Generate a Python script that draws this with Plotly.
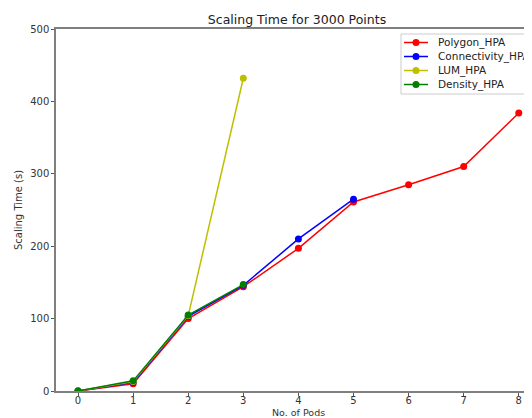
import plotly.graph_objects as go

pods = [0, 1, 2, 3, 4, 5, 6, 7, 8]
polygon_hpa = [0, 10, 100, 144, 197, 261, 285, 310, 384]
connectivity_hpa = [0, 12, 103, 146, 210, 265]
lum_hpa = [0, 13, 104, 432]
density_hpa = [0, 14, 105, 147]
y_ticks = [0, 100, 200, 300, 400, 500]

series = [
    ("Polygon_HPA", polygon_hpa, "#ff0000"),
    ("Connectivity_HPA", connectivity_hpa, "#0000ff"),
    ("LUM_HPA", lum_hpa, "#bfbf00"),
    ("Density_HPA", density_hpa, "#008000"),
]

# page has an 8px body margin; figure is sized to fit the window
W, H = 524, 410
L, R, T, B = 48, 0, 21, 27
PW, PH = W - L - R, H - T - B


def px(page_x):
    return (page_x - 8 - L) / PW


def py(page_y):
    return (H - B - (page_y - 8)) / PH


fig = go.Figure()
for name, vals, color in series:
    fig.add_trace(go.Scatter(
        x=pods[:len(vals)], y=vals, name=name, mode="lines+markers",
        line=dict(color=color, width=1.5),
        marker=dict(color=color, size=7),
        showlegend=False,
    ))

font = "DejaVu Sans"
shapes = []
annotations = []
# legend box
shapes.append(dict(type="rect", xref="paper", yref="paper",
                   x0=px(401), x1=px(545), y0=py(94), y1=py(34),
                   line=dict(color="#cccccc", width=1),
                   fillcolor="rgba(255,255,255,0.85)", layer="above"))
entry_y = [42.5, 56.5, 70.5, 84.5]
for (name, vals, color), ey in zip(series, entry_y):
    shapes.append(dict(type="line", xref="paper", yref="paper",
                       x0=px(404), x1=px(428), y0=py(ey), y1=py(ey),
                       line=dict(color=color, width=1.5), layer="above"))
    shapes.append(dict(type="circle", xref="paper", yref="paper",
                       xsizemode="pixel", ysizemode="pixel",
                       xanchor=px(416), yanchor=py(ey),
                       x0=-3.5, x1=3.5, y0=-3.5, y1=3.5,
                       line=dict(color=color, width=0), fillcolor=color,
                       layer="above"))
    annotations.append(dict(text=name, xref="paper", yref="paper",
                            x=px(436), y=py(ey), xanchor="left", yanchor="middle",
                            showarrow=False,
                            font=dict(family=font, size=10.5, color="#222222")))

# axis titles
annotations.append(dict(text="No. of Pods", xref="paper", yref="paper",
                        x=px(298), y=py(412.5), xanchor="center", yanchor="middle",
                        showarrow=False, font=dict(family=font, size=9.5, color="#333333")))
annotations.append(dict(text="Scaling Time (s)", xref="paper", yref="paper",
                        x=px(18), y=py(210), xanchor="center", yanchor="middle",
                        textangle=-90, showarrow=False,
                        font=dict(family=font, size=10, color="#333333")))

fig.update_layout(
    width=W, height=H,
    margin=dict(l=L, r=R, t=T, b=B),
    paper_bgcolor="white", plot_bgcolor="white",
    font=dict(family=font, size=10, color="#333333"),
    title=dict(text="Scaling Time for 3000 Points", x=px(297), xanchor="center",
               xref="paper", y=1 - (20 - 8) / H, yanchor="middle",
               font=dict(size=12.5, color="#222222")),
    showlegend=False,
    shapes=shapes,
    annotations=annotations,
)
fig.update_xaxes(
    range=[-0.4, 8.24], tickmode="array", tickvals=pods,
    ticktext=[str(p) for p in pods],
    showgrid=False, zeroline=False, showline=True, linecolor="#7f7f7f", linewidth=1.5,
    mirror=True, ticks="outside", ticklen=3, tickcolor="#555555",
    ticklabelstandoff=-4,
)
fig.update_yaxes(
    range=[0, 500], tickvals=y_ticks,
    showgrid=False, zeroline=False, showline=True, linecolor="#7f7f7f", linewidth=1.5,
    mirror=False, ticks="outside", ticklen=3, tickcolor="#555555",
)
fig.write_html("out.html")
